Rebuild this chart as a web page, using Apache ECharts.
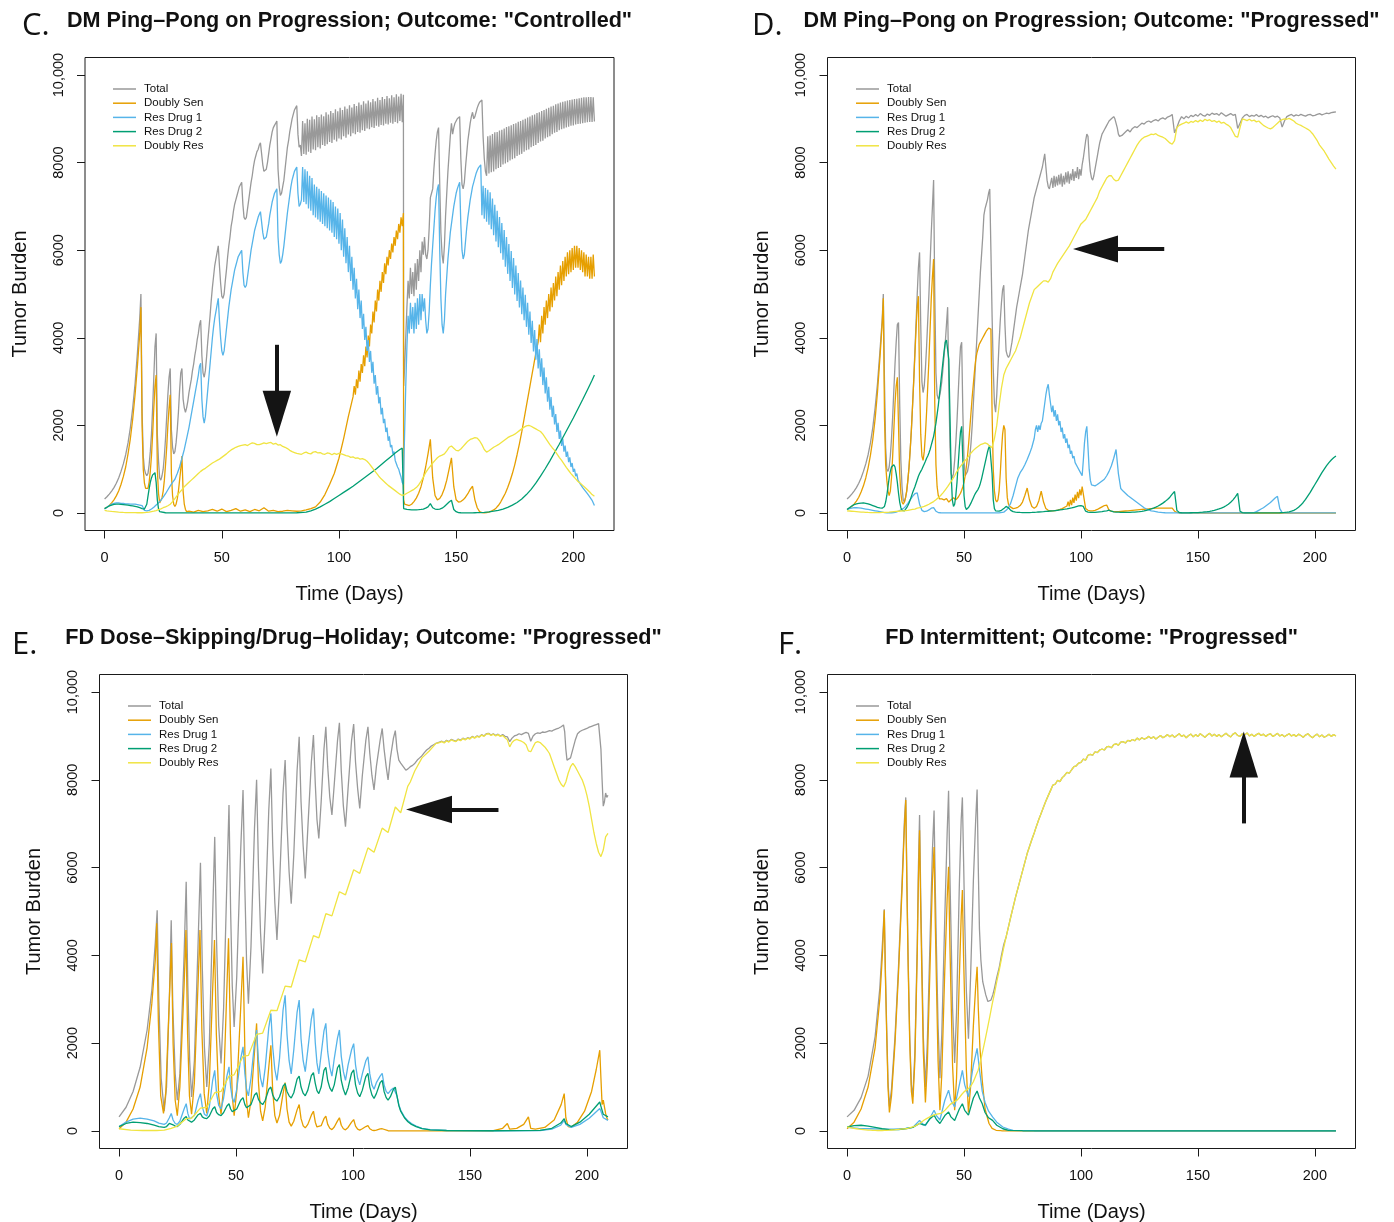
<!DOCTYPE html>
<html>
<head>
<meta charset="utf-8">
<title>Tumor burden under four dosing strategies</title>
<script src="https://cdn.jsdelivr.net/npm/echarts@6.0.0/dist/echarts.min.js"></script>
<style>
html,body{margin:0;padding:0;background:#fff}
#chart{width:1394px;height:1222px}
</style>
</head>
<body>
<div id="chart"></div>
<script>
// ---------------------------------------------------------------------------
// Axes and legend
// ---------------------------------------------------------------------------
const NAMES = ['Total', 'Doubly Sen', 'Res Drug 1', 'Res Drug 2', 'Doubly Res'];
const COLORS = ['#999999', '#E69F00', '#56B4E9', '#009E73', '#F0E442'];
const X_TICKS = [0, 50, 100, 150, 200];
const Y_TICKS = [0, 2000, 4000, 6000, 8000, 10000];
// simulated days 0..209 with the usual 4% padding on each side
const X_RANGE = [-8.36, 217.36];
const Y_RANGE = [-400, 10400];

// Runs of evenly spaced samples: [firstDay, step, v0, v1, ...]
// Pair lists: [day, value, day, value, ...]

// ---------------------------------------------------------------------------
// C. DM ping-pong on progression (controlled)
// ---------------------------------------------------------------------------
const C_TOTAL = [
  [0, 1, 320,370,430,500,580,680,800,950,1120,1330,1600,1950,2400,2950,3650,4450],
  [15.5, 0.5, 5000,2300,1300,1000,900,850,900,1100,1400,1800,2400,3100,3800,4100,1800,1200,800,750,850,1000,1300,1700,2200,2700,3100,3300,1900,1500,1350,1400,1600,1900,2300,2800,3200,3300,2600,2400,2300,2400],
  [35.5, 0.5, 2550,2750,2900,3050,3250,3400,3600,3750,3950,4100,4300,4400,3600,3200,3100,3250,3550,3900,4200,4500,4850,5150,5400,5650,5800,5950,6100,5650,5250,4950,4900,5000,5300,5550,5850,6100,6300,6550,6700,6900,7050,7150,7250,7350,7450,7500,7550,7050,6750,6700,6750,6950,7150,7350,7550,7700,7900,8050,8150,8250,8300,8400,8450,8480,7950,7800,7780,7850,8000,8200,8400,8550,8700,8800,8850,8900,8950,7850,7450,7250,7300,7450,7600,7850,8100,8350,8500,8700,8850,9000,9100,9200,9250,9300,8650,8350,8400],
  [84, 0.5, 8150,8950,8200,8900,8180,9000,8250,8980,8220,9050,8300,8990,8280,9080,8350,9040,8320,9100,8400,9060,8380,9150,8420,9100,8470,9180,8450,9130,8520,9220,8480,9170,8550,9250,8530,9200,8600,9280,8570,9230,8640,9310,8600,9260,8670,9340,8650,9290,8700,9370,8680,9320,8740,9400,8720,9350,8780,9420,8760,9380,8810,9450,8790,9400,8840,9480,8820,9430,8860,9500,8850,9450,8890,9520,8870,9470,8910,9540,8890,9490,8930,9560,8900,9510,8950,9570,8920,9550],
  [127.6, 0.4, 2900,3300],
  [128.5, 0.5, 4000,4700,5300,4900,5600,5000,5500,4950,5700,5100,5800,5300,6000,5500,6200,5900,6300,5900,5800,6000,6500,7200,7300,7400,7850,8200,8500,8700,8800,7500,6400,5900,5700,6100,6800,7300,7800,8200,8600,8900,8650,8800,8900,8950,9000,9030,9050,8100,7500,7400,7550,7900,8200,8500,8700,8900,9050,9150,9000,9050,9150,9250,9320,9380,9410,9430,8600,8100,7800],
  [163, 0.5, 7700,8600,7750,8620,7780,8650,7800,8690,7850,8700,7880,8730,7900,8750,7960,8780,7980,8810,8010,8830,8050,8850,8080,8880,8100,8900,8150,8930,8180,8950,8200,8980,8250,9000,8280,9030,8300,9050,8350,9080,8380,9100,8400,9130,8450,9150,8480,9180,8500,9200,8550,9230,8580,9250,8600,9280,8650,9300,8680,9330,8700,9350,8740,9370,8760,9390,8780,9400,8800,9420,8820,9430,8840,9440,8850,9450,8870,9460,8880,9470,8890,9480,8900,9490,8910,9490,8920,9500,8930,9500,8930,9490,8940]
];
const C_SEN = [
  [0, 1, 100,130,170,230,300,390,500,650,830,1050,1350,1700,2150,2700,3350,4100],
  [15.5, 0.5, 4700,2000,1000,680,560,520,560,700,950,1300,1800,2400,2900,3150,1000,450,230,250,350,500,750,1100,1500,2000,2400,2700,900,400,200,150,200,320,500,750,1000,1300,500,200,80,30],
  [36, 2, 40,20,60,30,50,80,40,90,30,60,100,40,70,30,80,50,120,40,60,30,40,60,50],
  [82, 2, 40,50,70,100,140,250,420,650,900,1250,1700,2200,2650],
  [106.5, 0.5, 2900,2700,3050,2850,3250,3000,3400,3200,3600,3350,3800,3550,4050,3800,4300,4100,4600,4350,4850,4600,5100,4850,5300,5050,5500,5250,5700,5450,5850,5650,6000,5800,6150,5950,6300,6100,6450,6250,6600,6400,6750,6550,6850],
  [127.6, 0.4, 300,200,180,170],
  [129, 1, 160,170,200,260,340,450,600,800,1050,1350,1680,800,400,300,330,420,560,750,1000,1260,600,300,250,260,300,360,440,540,610,300,120,30,10,5,10,20,40,70,110,170,250],
  [170, 1, 350,450,580,730,900,1100,1330,1580,1850,2150,2450,2750,3050,3350,3650,3900],
  [185.5, 0.5, 4300,3900,4500,4100,4700,4300,4850,4450,5000,4600,5150,4700,5250,4850,5400,4950,5500,5100,5650,5200,5750,5300,5850,5400,5950,5450,6000,5500,6050,5550,6100,5600,6100,5600,6050,5550,6000,5500,5950,5400,5900,5400,5850,5350,5850,5350,5900,5400]
];
const C_RES1 = [
  [0, 1, 90,130,170,200,220,230,230,220,220,210,210,200,200,200,190,180,170],
  [17, 1, 60,50,60,90,130,180,230,290,360,440,530,620,700,770,900,1050,1250,1450,1700,1950,2250,2550,2850,3150],
  [40.5, 0.5, 3350,3420,2600,2200,2050,2200,2500,2800,3100,3400,3700,4000,4250,4450,4600,4750,4900,4400,4000,3700,3600,3700,3950,4200,4450,4700,4900,5100,5250,5400,5550,5650,5750,5850,5900,5950,6000,5500,5200,5150,5200,5400,5600,5800,6000,6150,6300,6450,6550,6650,6750,6820,6880,6920,6400,6250,6230,6300,6450,6600,6800,6950,7100,7200,7300,7350,7400,6300,5900,5700,5750,5900,6100,6350,6600,6850,7050,7250,7450,7600,7700,7800,7850,7900,7300,7000,7050],
  [84, 0.5, 7150,7900,7100,7850,7050,7800,6950,7700,6900,7650,6800,7500,6750,7450,6700,7400,6650,7350,6600,7300,6550,7250,6500,7200,6450,7150,6400,7100,6300,7000,6250,6950,6150,6850,6000,6700,5850,6500,5700,6300,5500,6100,5300,5850,5100,5600,4900,5350,4650,5100,4450,4850,4200,4550,3950,4250,3700,3950,3450,3700,3200,3450,2950,3150,2700,2900,2500,2650,2250,2400,2050,2150,1850,1950,1650,1750,1500,1550,1350,1400,1200,1200,1050,1000,900,820,700,650],
  [128, 0.5, 1800,2900,3800,4500,4100,4800,4200,4700,4100,4800,4200,4900,4300,5000,4400,5000,4600,4900,4400,4100,4200,4600,5200,5700,6100,6500,6900,7200,7400,7500,6000,4900,4300,4100,4400,5000,5400,5800,6100,6400,6600,6800,7000,7150,7300,7400,7480,7550,6600,6000,5800,5900,6200,6500,6750,6950,7150,7300,7450,7550,7650,7750,7820,7880,7920,7950],
  [161, 0.5, 6800,7470,6720,7420,6650,7380,6580,7320,6480,7180,6340,7040,6200,6900,6070,6760,5930,6620,5780,6460,5620,6300,5460,6140,5300,5980,5140,5820,4990,5650,4840,5480,4690,5310,4540,5150,4400,4980,4250,4800,4070,4600,3880,4390,3690,4180,3500,3970,3300,3740,3110,3530,2920,3320,2730,3100,2540,2880,2360,2650,2190,2450,2020,2260,1850,2060,1690,1880,1530,1700,1400,1540,1280,1400,1160,1270,1050,1140,940,1010,840,900,750,790,660,690,580,600,510,520,440,440,370,360,290,260,170]
];
const C_RES2 = [
  [0, 1, 100,130,160,180,195,200,200,195,190,185,180,170,160,150,140,120],
  [16, 0.5, 100,95,90,110,200,380,550,700,800,870,910,920,700,300,100,30,10],
  [26, 4, 5,3,2,2,2,2,2,2,2,2,2,2,2,3,5],
  [86, 2, 20,50,90,140,200,260,330,400,470,540,610,690,770,850,930,1010,1100,1190,1280,1370,1450],
  [127, 0.5, 1480,1500],
  [127.6, 0.4, 100],
  [128, 1, 90,80,75,70,70,72,75,80,90,110,140,214,120,90,80,90,110,150,200,250,290,80,30,10,5,3,3,3,3,4,5,6],
  [160, 2, 8,15,25,40,60,90,130,180,240,320,420,540,680,840,1010,1190,1380,1570,1770,1970,2170,2380,2590,2810,3030],
  [209, 1, 3150]
];
const C_DRES = [
  [0, 1,
    60,50,42,35,30,25,20,16,12,10, 8,8,6,6,5,5,5,8,12,20,
    30,40,55,75,95,120,140,165,200,260, 330,400,470,530,600,650,700,750,800,850,
    900,950,990,1020,1060,1100,1140,1170,1200,1230, 1270,1310,1350,1400,1440,1470,1500,1520,1540,1550,
    1560,1540,1575,1600,1590,1560,1560,1580,1600,1585, 1600,1610,1570,1590,1550,1560,1520,1500,1470,1430,
    1400,1380,1360,1350,1340,1370,1390,1360,1350,1390, 1400,1370,1380,1350,1340,1370,1360,1330,1360,1340,
    1360,1350,1330,1310,1300,1270,1280,1250,1260,1230, 1240,1220,1180,1120,1050,980,910,840,780,730,
    680,630,590,550,510,470,430,400,420,450, 480,510,540,580,640,720,820,920,1000,1070,
    1140,1200,1260,1300,1320,1350,1420,1500,1530,1480, 1430,1420,1460,1520,1580,1640,1680,1700,1720,1710,
    1650,1560,1450,1390,1420,1460,1500,1530,1560,1600, 1640,1680,1720,1750,1770,1800,1840,1880,1920,1960,
    1990,2000,1980,1950,1920,1890,1860,1800,1720,1640, 1560,1490,1430,1350,1270,1200,1120,1040,970,900,
    840,780,720,680,630,580,530,480,420,380]
];

// ---------------------------------------------------------------------------
// D. DM ping-pong on progression (progressed)
// ---------------------------------------------------------------------------
const D_TOTAL = [
  [0, 1, 320,370,430,500,580,680,800,950,1120,1330,1600,1950,2400,2950,3650,4400],
  [15.5, 0.5, 5000,3000,1500,1000,950,1050,1300,1700,2200,2800,3400,3900,4300,4350,2500,1200,600,300,250,350,500,750,1050,1450,1900,2450,3050,3700,4350,5000,5600,5950,4300,3000,2750,2900,3300,3800,4400,5000,5700,6400,7000,7600,5000,3200,2700,2600,2650,2800,3000,3300,3600,3900,4300,4700,3000,1500,900,800,900,1200,1600,2100,2700,3300,3800,3900,2300,1200,850,850,950,1100,1300,1600,2000,2500,3000,3500,4000,4500,5000,5500,5900,6300,6800,6950,7050,7150,7300,7400,6000,4500,3300,2500,2300,2700,3300,3900,4400,4800,5100,5200,4300,3700,3600,3550,3600,3750,3900,4100,4300,4500,4700,4850,5000,5150,5300,5450,5650,5850,6050,6250,6450,6600,6750,6900,7050,7200,7300,7400,7500,7600,7700,7800,7900,8050,8200,7900,7600,7450,7400],
  [87.5, 0.5, 7650,7420,7700,7450,7680,7480,7720,7500,7750,7450,7700,7500,7780,7550,7800,7520,7750,7600,7850,7580,7800,7650,7900,7620,7850,7700,7950],
  [101, 0.5, 8100,8300,8500,8650,8600,8100,7800,7650,7600,7700,7850,8000,8150,8300,8450,8550,8650,8700,8750,8800,8850,8900,8950,8980,9000,9030,9050,9000,9040,8800,8650,8600,8580,8620],
  [118, 1,
    8650,8700,8750,8700,8780,8820,8800,8850,8900,8880, 8930,8950,8920,8960,8980,8950,9000,9020,8990,9040,
    9060,9100,8680,8800,8950,9050,9000,9060,9020,9080, 9050,9100,9060,9120,9080,9060,9110,9080,9130,9100,
    9120,9080,9140,9100,9060,9090,9120,9080,9100,8780, 8900,9020,9080,9100,9050,9080,9060,9100,9050,9080,
    9040,9060,9020,9050,9070,9040,9060,9020,8810,8950, 9050,9080,9100,9060,9090,9070,9100,9080,9060,9090,
    9100,9070,9080,9100,9120,9090,9110,9130,9120,9140, 9150,9160]
];
const D_SEN = [
  [0, 1, 80,110,150,200,270,360,480,620,800,1030,1320,1680,2150,2750,3500,4300],
  [15.5, 0.5, 4900,2200,1100,750,500,400,500,800,1300,1900,2500,2900,3100,2000,900,450,250,200,250,350,500,750,1050,1450,1900,2450,3000,3600,4200,4700,4950,3000,1800,1300,1200,1400,1800,2300,2900,3500,4200,4900,5400,5800,2500,1100,600,400,320,300,320,350,300,280,330,300,250,280,300,320,350,330,300,320,360,400,450,520,600,700,850,1050,1300,1600,1950,2300,2650],
  [54, 0.5, 2950,3250,3500,3650,3750,3850,3900,3950,4000,4050,4100,4150,4180,4220,4250,4200,2300,1000,500,300,250,300,500,900,1400,1800,2000,1900,800,350,200,150,120],
  [71, 1, 100,110,130,170,250,400,570,300,150,110,150,280,500,250,100,60,50,50,55,65,80,100,130,160],
  [94.5, 0.5, 260,150,300,180,350,230,420,280,480,340,540,400,600],
  [101, 1, 600,100,60,50,50,60,80,110,140,170,180,60,40,30,30,30,35,40,45,50,55,60,65,70,75,80,85,90,95,100,105,110,110,110,110,110,110,110,110,40,15,5,2],
  [145, 8, 1,0,0,0,0,0,0,0,0]
];
const D_RES1 = [
  [0, 1, 80,100,110,120,120,115,110,100,90,80,70,60,50,40,30,20],
  [16, 1, 10,5,5,5,10,20,40,70,100,150,220,300,380,440,460,200,60,30,40,70,110,120,40,10,5],
  [45, 5, 3,2,2,2,2],
  [67, 1, 20,60,120,230,400,600,800,920,1000,1100,1220,1350,1500,1700],
  [80.5, 0.5, 1900,2000,1850,2000,1900,2050,2100,2300,2500,2700,2850,2940,2700,2500,2300,2450,2200,2350,2100,2250,2000,2100,1850,1950,1700,1800,1600,1700,1480,1560,1350,1420,1250,1300,1150,1180,1050,1080,950,960,850,1200,1600,1850,1980,1500,1000,750,640,610],
  [106, 1, 620,650,690,730,770,850,950,1080,1250,1450,900,560,500,450,400,360,320,280,240,200,160,120,90,70,50,40,30,20,15,10,5],
  [140, 10, 3,3,3,3],
  [174, 1, 10,30,60,90,120,160,200,240,290,340,380,100,10,3],
  [192, 6, 2,2,2],
  [209, 1, 2]
];
const D_RES2 = [
  [0, 1, 80,120,160,190,210,220,225,230,220,210,190,170,150,130,115,110],
  [15.5, 0.5, 110,150,250,400,600,800,950,1050,1080,1100,1050,900,700,450,250,120,60,40,50,80,120,170,230,300,380,460,530,600,680,760,840,900,950,1000,1060,1120,1180,1250,1300,1370,1450,1550,1650,1750,1900,2050,2250,2450,2700,2950,3200,3450,3700,3900,3950,3980,3500,2200,900,300,150,200,400,700,1100,1500,1850,1980,1200,400,150,80,90,130,180,230,290,350,410,460,500,540,600,680,780,900,1020,1140,1260,1380,1480,1540,1560,900,300,100,50,40],
  [65, 1,
    40,60,100,150,120,60,30,20,15,12, 10,10,10,10,12,15,18,22,26,30,
    35,40,45,50,56,62,70,78,86,95, 105,115,130,145,160,170,150,40,20,15,
    15,15,20,25,30,40,50,65,40,25, 20,18,16,15,15,15,16,18,20,25,
    30,38,48,60,75,92,112,135,160,190, 225,265,310,360,430,490,60,10,5,3,
    3,4,5,6,8,10,14,18,24,30, 38,48,60,75,92,112,135,165,200,245,
    300,370,450,40,8],
  [170, 3, 3,3,3,3,3],
  [185, 1, 5,8,12,18,26,40,60,90,130,180,240,310,390,470,560,650,740,830,920,1000,1080,1150,1210,1260,1300]
];
const D_DRES = [
  [0, 1,
    50,45,40,35,30,25,20,18,15,12, 10,10,10,10,10,12,14,16,20,25,
    30,35,40,45,50,55,60,70,80,90, 110,120,135,150,175,200,230,260,300,350,
    400,460,530,600,680,760,850,950,1030,1100, 1170,1230,1300,1370,1430,1480,1520,1560,1580,1600,
    1580,1520,1500,1700,2000,2450,2850,3150,3300,3400, 3500,3600,3700,3850,4000,4200,4400,4600,4800,4950,
    5100,5150,5200,5250,5300,5300,5270,5350,5500,5600, 5700,5780,5860,5940,6020,6100,6200,6300,6400,6500,
    6600,6650,6700,6800,6900,7000,7100,7200,7350,7450, 7550,7650,7700,7700,7620,7580,7600,7700,7800,7900,
    8000,8100,8200,8300,8400,8480,8540,8580,8600,8620, 8650,8640,8660,8620,8600,8580,8550,8500,8450,8420,
    8500,8800,8850,8880,8900,8930,8900,8940,8920,8960, 8930,8970,8940,8990,8960,8980,8940,8960,8920,8950,
    8900,8920,8880,8850,8800,8700,8600,8580,8800,9000, 8980,8960,8990,8950,8970,8930,8950,8900,8850,8820,
    8790,8770,8800,8850,8900,8950,8980,9000,8990,9010, 8980,8950,8900,8870,8850,8820,8790,8760,8720,8660,
    8580,8500,8400,8330,8260,8170,8080,8000,7920,7850]
];

// ---------------------------------------------------------------------------
// E. FD dose-skipping / drug-holiday (progressed)
// ---------------------------------------------------------------------------
const E_TOTAL = [
  0,320, 3,540, 6,900, 9,1450, 12,2300, 14,3200, 15.5,4300, 16.3,5030, 17,3000, 18,1200, 19.3,450,
  20.3,1000, 21.5,3000, 22.3,4800, 23,2800, 24,1300, 24.9,700,
  26,1300, 27.8,4000, 28.7,5680, 29.4,3300, 30.2,1600, 31,775,
  32.2,1600, 33.8,4300, 34.8,6110, 35.6,3700, 36.5,1900, 37.5,1000,
  38.6,2000, 40,4900, 40.9,6700, 41.7,4300, 42.6,2400, 43.6,1535,
  44.7,2800, 46.1,5700, 47,7425, 47.7,5000, 48.4,3300, 49.2,2370,
  50.3,3500, 52,6400, 53,7770, 53.8,5500, 54.5,3900, 55.3,2900,
  56.4,4200, 57.9,6900, 58.8,8000, 59.6,6000, 60.5,4500, 61.4,3590,
  62.5,4900, 64,7300, 64.9,8260, 65.7,6500, 66.6,5200, 67.5,4350,
  68.6,5600, 70.1,7700, 71,8450, 71.8,7000, 72.7,5900, 73.6,5180,
  74.7,6300, 76.1,8200, 77,8980, 77.8,7500, 78.7,6500, 79.6,5750,
  80.7,6900, 82.2,8400, 83.1,9020, 83.9,7900, 84.6,7100, 85.4,6665,
  86.4,7500, 87.6,8700, 88.4,9210, 89.2,8300, 90.1,7600, 91,7200,
  92,7900, 93.4,8900, 94.2,9300, 95,8200, 95.9,7400, 96.8,6930,
  97.9,7800, 99.4,8900, 100.3,9270, 101.1,8400, 102,7800, 102.9,7350,
  104,8100, 105.5,8900, 106.4,9210, 107.2,8600, 108.1,8100, 109,7770,
  110,8300, 111.6,8900, 112.5,9170, 113.3,8700, 114.2,8300, 115,8000,
  116,8500, 117.3,8950, 118.1,9120, 118.8,8700, 119.6,8450, 120.4,8380, 121.5,8300, 122.6,8220,
  123.5,8250, 124.5,8300, 125.5,8330, 126.5,8380, 127.5,8450, 128.5,8500, 129.5,8550, 130.5,8620,
  131.5,8680, 132.5,8720, 133.5,8770, 134.5,8800, 135.5,8830,
  137,8860, 138,8880, 139,8850, 140,8900, 141,8870, 142,8920, 143,8900, 144,8880, 145,8930, 146,8900,
  147,8950, 148,8920, 149,8960, 150,8940, 151,8990, 152,8960, 153,9000, 154,8980, 155,9030, 156,9000,
  157,9050, 158,9060, 159,9020, 160,9050, 161,9010, 162,9040, 163,9000, 164,9030, 165,8990, 166,8980,
  167,8870, 168,8950, 169,9000, 170,9020, 171,9050, 172,9030, 173,9060, 174,9080, 175,9060, 176,8880,
  177,9000, 178,9050, 179,9070, 180,9060, 181,9090, 182,9080, 183,9100, 184,9120, 185,9110, 186,9140,
  187,9160, 188,9180, 189,9210, 190,9250, 190.5,9100, 191,8700, 191.5,8450, 192,8410, 193,8500, 194,8700,
  195,8900, 196,9050, 197,9100, 198,9130, 199,9150, 200,9170, 201,9200, 202,9220, 203,9240, 204,9260,
  205,9280, 205.5,9290, 206,8700, 206.5,8000, 207,7400, 207.5,7500, 208,7700, 208.5,7600, 209,7650
];
const E_SEN = [
  0,50, 3,200, 6,500, 9,1000, 12,1900, 14,2900, 15.5,3900, 16.1,4730, 16.8,2500, 17.8,800, 19,400,
  20,900, 21.5,3000, 22.4,4280, 23.1,2000, 24,700, 24.9,350,
  26,1000, 27.8,3300, 28.6,4580, 29.3,2200, 30.1,800, 31,380,
  32.2,1100, 33.8,3400, 34.6,4580, 35.4,2300, 36.4,850, 37.5,400,
  38.6,1100, 40,3200, 40.8,4350, 41.6,2200, 42.6,800, 43.6,380,
  44.7,1000, 46,3100, 46.8,4390, 47.6,2200, 48.4,800, 49.2,350,
  50.3,900, 52,2800, 53,3970, 53.8,1800, 54.5,700, 55.3,300,
  56.4,700, 57.9,1800, 58.8,2450, 59.6,1100, 60.5,450, 61.4,230,
  62.5,550, 64,1450, 64.9,1950, 65.7,900, 66.6,350, 67.5,180,
  68.6,350, 70.1,850, 71,1100, 71.8,500, 72.7,200, 73.6,110,
  74.7,220, 76.1,480, 77,600, 77.8,280, 78.7,120, 79.6,70,
  80.7,150, 82.2,360, 83.1,450, 83.9,200, 84.6,90, 85.4,50,
  86.4,120, 87.6,280, 88.4,340, 89.2,150, 90.1,60, 91,30,
  92,90, 93.4,230, 94.2,300, 95,130, 95.9,50, 96.8,25,
  97.9,80, 99.4,200, 100.3,260, 101.1,110, 102,40, 102.9,20,
  104,50, 105.5,100, 106.4,120, 107.2,50, 108.1,20, 109,10,
  110,20, 111.6,45, 112.5,50, 113.3,20, 115,5, 120,3, 130,2, 140,2, 150,2, 160,5,
  164,60, 166,170, 167,40, 170,60, 173,150, 175,320, 176,60, 178,40, 182,80, 186,250, 189,600,
  190.3,850, 191,300, 192,100, 193.3,90, 196,200, 199,450, 202,900, 204,1400, 205.5,1840, 206,1200,
  206.5,600, 207,700, 207.5,550, 208,400, 208.5,300, 209,250
];
const E_RES1 = [
  0,100, 3,200, 6,270, 9,290, 12,270, 15,230, 17,180, 19.3,150,
  20.3,180, 21.5,300, 22.3,400, 23.1,250, 24,170, 24.9,150,
  26,220, 27.8,500, 28.7,620, 29.4,400, 30.2,270, 31,240,
  32.2,350, 33.8,700, 34.8,850, 35.6,550, 36.5,380, 37.5,340,
  38.6,550, 40,1150, 40.9,1380, 41.7,850, 42.6,580, 43.6,500,
  44.7,750, 46.1,1250, 47,1460, 47.7,1000, 48.4,750, 49.2,650,
  50.3,950, 52,1650, 53,1915, 53.8,1300, 54.5,950, 55.3,800,
  56.4,1200, 57.9,2000, 58.8,2300, 59.6,1600, 60.5,1200, 61.4,1000,
  62.5,1450, 64,2350, 64.9,2680, 65.7,1900, 66.6,1400, 67.5,1150,
  68.6,1650, 70.1,2750, 71,3090, 71.8,2200, 72.7,1600, 73.6,1300,
  74.7,1850, 76.1,2700, 77,2980, 77.8,2100, 78.7,1600, 79.6,1350,
  80.7,1850, 82.2,2550, 83.1,2790, 83.9,2000, 84.6,1550, 85.4,1300,
  86.4,1750, 87.6,2280, 88.4,2450, 89.2,1800, 90.1,1450, 91,1250,
  92,1650, 93.4,2120, 94.2,2300, 95,1700, 95.9,1350, 96.8,1150,
  97.9,1500, 99.4,1850, 100.3,1990, 101.1,1500, 102,1200, 102.9,1050,
  104,1300, 105.5,1600, 106.4,1690, 107.2,1300, 108.1,1050, 109,950,
  110,1100, 111.6,1250, 112.5,1310, 113.3,1050, 114.2,900, 115,850,
  116,920, 117.3,980, 118.1,1000, 118.8,800, 119.6,600, 120.4,470, 122,320, 123.5,230, 125,170,
  127,110, 129.5,60, 133,30, 140,10, 160,5, 180,10, 185,40, 188.8,130, 190.3,240, 191,150,
  193.3,80, 197,150, 201,290, 205.5,510, 206,450, 207,300, 209,240
];
const E_RES2 = [
  0,100, 3,170, 6,200, 9,190, 12,170, 15,130, 17,100, 19.3,80,
  20.3,100, 21.5,170, 22.3,200, 23.1,140, 24,110, 24.9,100,
  26,150, 27.8,290, 28.7,330, 29.4,250, 30.2,210, 31,200,
  32.2,250, 33.8,370, 34.8,400, 35.6,320, 36.5,290, 37.5,280,
  38.6,340, 40,500, 40.9,550, 41.7,420, 42.6,370, 43.6,350,
  44.7,420, 46.1,570, 47,620, 47.7,500, 48.4,440, 49.2,420,
  50.3,500, 52,700, 53,760, 53.8,600, 54.5,530, 55.3,500,
  56.4,600, 57.9,820, 58.8,870, 59.6,720, 60.5,640, 61.4,600,
  62.5,700, 64,950, 64.9,1000, 65.7,820, 66.6,720, 67.5,680,
  68.6,780, 70.1,1020, 71,1080, 71.8,900, 72.7,800, 73.6,750,
  74.7,870, 76.1,1180, 77,1250, 77.8,1000, 78.7,860, 79.6,800,
  80.7,930, 82.2,1260, 83.1,1330, 83.9,1080, 84.6,920, 85.4,850,
  86.4,1000, 87.6,1380, 88.4,1450, 89.2,1150, 90.1,980, 91,900,
  92,1050, 93.4,1440, 94.2,1510, 95,1150, 95.9,950, 96.8,820,
  97.9,980, 99.4,1320, 100.3,1390, 101.1,1050, 102,860, 102.9,780,
  104,930, 105.5,1240, 106.4,1310, 107.2,1000, 108.1,820, 109,740,
  110,850, 111.6,1100, 112.5,1150, 113.3,900, 114.2,760, 115,700,
  116,780, 117.3,950, 118.1,1000, 118.8,800, 119.6,580, 120.4,450, 122,300, 123.5,210, 125,150,
  127,100, 129.5,55, 133,25, 140,10, 160,5, 180,15, 185,60, 188.8,180, 190.3,280, 191,170,
  193.3,100, 197,200, 201,380, 205.5,660, 206,560, 207,380, 209,320
];
const E_DRES = [
  0,50, 5,20, 10,10, 16,10, 19.3,20, 22.3,60, 24.9,110, 28.7,280, 31,290, 34.8,520, 37.5,540,
  40.9,870, 43.6,900, 47,1250, 49.2,1280, 53,1700, 55.3,1720, 58.8,2200, 61.4,2230, 64.9,2750,
  67.5,2740, 71,3300, 73.6,3280, 77,3900, 79.6,3850, 83.1,4450, 85.4,4400, 88.4,4950, 91,4900,
  94.2,5450, 96.8,5380, 100.3,5950, 102.9,5870, 106.4,6450, 109,6350, 112.5,6900, 115,6800,
  118.1,7380, 120.4,7250, 123.4,7850, 124.5,7950, 126.4,8200, 129.5,8500, 132.5,8650, 135.5,8830,
  137,8850, 138,8870, 139,8840, 140,8890, 141,8860, 142,8910, 143,8890, 144,8870, 145,8920, 146,8890,
  147,8940, 148,8910, 149,8950, 150,8930, 151,8980, 152,8950, 153,8990, 154,8970, 155,9020, 156,8990,
  157,9040, 158,9050, 159,9010, 160,9040, 161,9000, 162,9030, 163,8990, 164,9010, 165,8960, 166,8910,
  167,8750, 168,8850, 169,8900, 170,8920, 171,8900, 172,8880, 173,8850, 174,8800, 175,8660, 176,8640,
  177,8750, 178,8850, 179,8870, 180,8850, 181,8800, 182,8750, 183,8680, 184,8600, 185,8450, 186,8300,
  187,8150, 188,8000, 189,7900, 190,7840, 191,7950, 192,8150, 193,8300, 194,8375, 195,8300, 196,8200,
  197,8100, 198,8000, 199,7850, 200,7650, 201,7400, 202,7100, 203,6800, 204,6550, 205,6350, 206,6250,
  207,6400, 208,6700, 209,6780
];

// ---------------------------------------------------------------------------
// F. FD intermittent (progressed)
// ---------------------------------------------------------------------------
// Until day 68; afterwards the whole burden is the doubly resistant clone (F_DRES).
const F_TOTAL = [
  0,320, 3,470, 6,760, 9,1250, 12,2150, 14,3250, 15.2,4350, 15.9,5050, 16.4,3650, 16.9,2450, 17.5,1150, 18.1,560,
  19,950, 20.5,2150, 22,3750, 23.5,5650, 24.5,7050, 25.1,7600, 25.6,5650, 26.1,3950, 26.8,2150, 27.5,1050, 28.1,780,
  29,1800, 30,4250, 30.5,6000, 31,7200, 31.5,5350, 32,3850, 32.6,2150, 33.5,1000,
  34.3,2000, 35.5,4400, 36.5,6400, 37.2,7300, 37.7,5600, 38.2,4200, 38.9,2400, 39.7,1200,
  40.5,2200, 41.8,4900, 42.8,6800, 43.4,7750, 43.9,6000, 44.4,4700, 45.1,2800, 46,1550,
  46.8,2700, 48,5600, 48.8,7100, 49.3,7600, 49.8,6200, 50.3,4800, 51,3200, 51.9,2100,
  52.8,3500, 54,5700, 55,7100, 55.6,7780, 56.1,6000, 56.6,4600, 57.2,3900, 58,3400, 59.3,3100,
  60.2,2950, 60.7,2950, 61.5,2980, 62.3,3100, 63,3250, 64,3500, 65.1,3740, 66,4000, 67,4250, 68,4420
];
const F_SEN = [
  0,50, 3,200, 6,500, 9,1000, 12,1900, 14,3000, 15.2,4100, 15.9,5030, 16.4,3500, 16.9,2300, 17.5,1000, 18.1,420,
  19,800, 20.5,2000, 22,3600, 23.5,5500, 24.5,6900, 25.1,7540, 25.6,5500, 26.1,3800, 26.8,2000, 27.5,900, 28.1,620,
  29,1600, 30,4000, 30.5,5700, 31,6850, 31.5,5000, 32,3500, 32.6,1800, 33.5,650,
  34.3,1500, 35.5,3800, 36.5,5700, 37.2,6470, 37.7,4800, 38.2,3400, 38.9,1600, 39.7,470,
  40.5,1300, 41.8,3700, 42.8,5300, 43.4,6020, 43.9,4400, 44.4,3200, 45.1,1500, 46,470,
  46.8,1200, 48,3500, 48.8,4900, 49.3,5490, 49.8,4000, 50.3,2900, 51,1400, 51.9,420,
  52.8,1000, 54,2400, 55,3300, 55.6,3740, 56.1,2800, 56.8,1900, 57.8,1150, 59,500, 60.7,170,
  62,60, 63.7,15, 66,5, 80,2, 120,0, 209,0
];
const F_RES1 = [
  0,80, 5,60, 10,50, 15,40, 20,40, 25,60, 28.1,80, 31,240, 32.6,150, 33.5,120, 35.5,300, 37.2,470,
  38.2,350, 39.7,250, 41.8,700, 43.4,930, 44.4,700, 46,550, 48,1050, 49.3,1380, 50.3,1050, 51.9,780,
  54,1500, 55.6,1880, 56.6,1400, 57.8,900, 59,650, 60.5,450, 62.2,320, 64,200, 66.6,90, 69,40, 71,15,
  80,5, 100,2, 209,2
];
const F_RES2 = [
  0,90, 3,120, 6,130, 9,110, 12,80, 15,50, 18,30, 22,30, 25,50, 28.1,80, 31,170, 32.6,140, 33.5,140,
  35.5,280, 37.2,360, 38.2,260, 39.7,170, 41.8,350, 43.4,430, 44.4,320, 46,240, 48,500, 49.3,620,
  50.3,470, 51.9,360, 54,750, 55.6,910, 56.6,750, 57.8,620, 59,420, 60.5,300, 62.2,240, 64,130,
  66.6,50, 69,15, 75,5, 100,2, 209,2
];
const F_DRES = [
  [0, 1,
    90,80,70,60,50,40,35,30,25,20, 18,15,12,10,10,10,12,15,18,22,
    25,30,35,40,45,50,60,75,90,110, 140,170,210,250,280,310,340,360,380,390,
    400,430,480,540,600,640,670,700,760,830, 890,930,970,1030,1120,1250,1380,1580,1820,2070,
    2330,2600,2880,3130,3400,3650,3920,4180,4420,4650, 4880,5100,5320,5520,5720,5920,6120,6320,6480,6640,
    6790,6950,7100,7240,7380,7520,7640,7760,7880,7900, 7990,7960,8050,8100,8170,8150,8230,8300,8320,8380,
    8400,8470,8450,8560,8580,8560,8640,8620,8680,8700, 8680,8750,8760,8730,8800,8820,8790,8860,8870,8840,
    8900,8880,8920,8890,8950,8910,8960,8930,8950,8990, 8940,8980,8930,8970,9010,8960,8990,9030,8980,9020,
    8970,9010,9050,8990,9020,8960,9010,9040,8980,9030, 8990,9050,9010,8970,9020,9060,9000,9040,8990,9030,
    8980,9020,9060,9010,8980,9040,9070,9010,8990,9050, 9020,9070,9000,9040,8990,9030,9060,9010,9040,8990,
    9030,9050,8990,9020,9060,9000,9030,8980,9020,9050, 9000,9030,8990,9040,9010,8970,9020,9050,9000,8960,
    9010,9040,8980,9020,8970,9000,9040,8990,9030,9000]
];

// Annotation arrows: shaft start and arrow-head centre, in (day, cells)
const ARROWS = {
  C: [[73.5, 3840], [73.5, 2267]],
  D: [[135.6, 6028], [106.2, 6028]],
  E: [[162.2, 7326], [132.5, 7326]],
  F: [[169.6, 7007], [169.6, 8577]]
};

// ---------------------------------------------------------------------------
function fromRuns(runs) {
  const pts = [];
  runs.forEach(function (r) {
    for (let i = 2; i < r.length; i++) {
      pts.push([Math.round((r[0] + (i - 2) * r[1]) * 100) / 100, r[i]]);
    }
  });
  return pts;
}
function fromPairs(flat) {
  const pts = [];
  for (let i = 0; i < flat.length; i += 2) pts.push([flat[i], flat[i + 1]]);
  return pts;
}

const PANELS = [
  {
    letter: 'C.', letterXY: [22, 26],
    title: 'DM Ping\u2013Pong on Progression; Outcome: "Controlled"', titleXY: [349.5, 21],
    grid: { left: 85, top: 57.5, width: 529, height: 473 },
    legendXY: [113, 83],
    data: [fromRuns(C_TOTAL), fromRuns(C_SEN), fromRuns(C_RES1), fromRuns(C_RES2), fromRuns(C_DRES)],
    arrow: ARROWS.C, headSize: [28.5, 46]
  },
  {
    letter: 'D.', letterXY: [752, 26],
    title: 'DM Ping\u2013Pong on Progression; Outcome: "Progressed"', titleXY: [1091.6, 21],
    grid: { left: 827.5, top: 57.5, width: 528, height: 473 },
    legendXY: [856, 83],
    data: [fromRuns(D_TOTAL), fromRuns(D_SEN), fromRuns(D_RES1), fromRuns(D_RES2), fromRuns(D_DRES)],
    arrow: ARROWS.D, headSize: [27, 45]
  },
  {
    letter: 'E.', letterXY: [12, 645],
    title: 'FD Dose\u2013Skipping/Drug\u2013Holiday; Outcome: "Progressed"', titleXY: [363.5, 638],
    grid: { left: 99.5, top: 674.5, width: 528, height: 474 },
    legendXY: [128, 700],
    data: [fromPairs(E_TOTAL), fromPairs(E_SEN), fromPairs(E_RES1), fromPairs(E_RES2), fromPairs(E_DRES)],
    arrow: ARROWS.E, headSize: [27.5, 46]
  },
  {
    letter: 'F.', letterXY: [778, 645],
    title: 'FD Intermittent; Outcome: "Progressed"', titleXY: [1091.6, 638],
    grid: { left: 827.5, top: 674.5, width: 528, height: 474 },
    legendXY: [856, 700],
    data: [
      fromPairs(F_TOTAL).concat(fromRuns(F_DRES).filter(function (p) { return p[0] >= 69; })),
      fromPairs(F_SEN), fromPairs(F_RES1), fromPairs(F_RES2), fromRuns(F_DRES)
    ],
    arrow: ARROWS.F, headSize: [28.5, 46]
  }
];

const FONT = '"Liberation Sans", Arial, Helvetica, sans-serif';

const option = {
  backgroundColor: '#ffffff',
  animation: false,
  grid: PANELS.map(function (p) {
    return Object.assign({ show: true, borderColor: '#1a1a1a', borderWidth: 1, backgroundColor: 'transparent', containLabel: false, outerBoundsMode: 'none' }, p.grid);
  }),
  xAxis: PANELS.map(function (p, i) {
    return {
      gridIndex: i, type: 'value', position: 'bottom', min: X_RANGE[0], max: X_RANGE[1],
      axisLine: { show: false, onZero: false }, splitLine: { show: false },
      axisTick: { show: true, inside: false, length: 8, customValues: X_TICKS, lineStyle: { color: '#1a1a1a', width: 1 } },
      axisLabel: { customValues: X_TICKS, margin: 20, fontSize: 14.5, fontFamily: FONT, color: '#111' },
      name: 'Time (Days)', nameLocation: 'middle', nameGap: 54,
      nameTextStyle: { fontSize: 20, fontFamily: FONT, color: '#111' }
    };
  }),
  yAxis: PANELS.map(function (p, i) {
    return {
      gridIndex: i, type: 'value', position: 'left', min: Y_RANGE[0], max: Y_RANGE[1],
      axisLine: { show: false, onZero: false }, splitLine: { show: false },
      axisTick: { show: true, inside: false, length: 8, customValues: Y_TICKS, lineStyle: { color: '#1a1a1a', width: 1 } },
      axisLabel: {
        customValues: Y_TICKS, rotate: 90, margin: 19, fontSize: 14.5, fontFamily: FONT, color: '#111',
        formatter: function (v) { return v >= 10000 ? '10,000' : String(v); }
      },
      name: 'Tumor Burden', nameLocation: 'middle', nameGap: 55,
      nameTextStyle: { fontSize: 20, fontFamily: FONT, color: '#111' }
    };
  }),
  legend: PANELS.map(function (p) {
    return {
      data: NAMES, orient: 'vertical', left: p.legendXY[0], top: p.legendXY[1],
      icon: 'rect', itemWidth: 23, itemHeight: 1.5, itemGap: 2.2, selectedMode: false, padding: 0,
      textStyle: { fontSize: 11.5, fontFamily: FONT, color: '#111', padding: [0, 0, 0, 3] }
    };
  }),
  graphic: { elements: [] },
  series: []
};

PANELS.forEach(function (p, i) {
  option.graphic.elements.push({
    type: 'text', x: p.titleXY[0], y: p.titleXY[1], silent: true,
    style: { text: p.title, fill: '#111', fontSize: 21.6, fontWeight: 'bold', fontFamily: FONT,
      align: 'center', verticalAlign: 'middle', textAlign: 'center', textVerticalAlign: 'middle' }
  });
  option.graphic.elements.push({
    type: 'text', x: p.letterXY[0], y: p.letterXY[1], silent: true,
    style: { text: p.letter, fill: '#111', fontSize: 31, fontFamily: '"Open Sans", Lato, sans-serif',
      align: 'left', verticalAlign: 'middle', textAlign: 'left', textVerticalAlign: 'middle' }
  });
  p.data.forEach(function (d, k) {
    const s = {
      type: 'line', name: NAMES[k], xAxisIndex: i, yAxisIndex: i, data: d,
      symbol: 'none', showSymbol: false, silent: true, animation: false,
      lineStyle: { width: 1.3, color: COLORS[k] }, itemStyle: { color: COLORS[k] },
      emphasis: { disabled: true }
    };
    if (k === NAMES.length - 1) {
      s.markLine = {
        silent: true, animation: false, symbol: ['none', 'triangle'], symbolSize: p.headSize,
        label: { show: false }, emphasis: { disabled: true },
        lineStyle: { color: '#141414', width: 4, type: 'solid' }, itemStyle: { color: '#141414' },
        data: [[{ coord: p.arrow[0] }, { coord: p.arrow[1] }]]
      };
    }
    option.series.push(s);
  });
});

const chart = echarts.init(document.getElementById('chart'), null, { renderer: 'canvas', width: 1394, height: 1222 });
chart.setOption(option);
</script>
</body>
</html>
